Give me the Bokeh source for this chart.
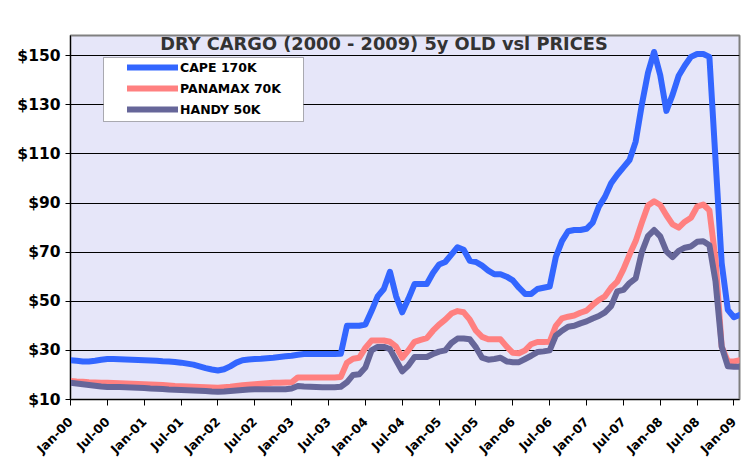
import math
from bokeh.plotting import figure
from bokeh.models import (FixedTicker, NumeralTickFormatter, Legend, LegendItem, Label,
                          BoxAnnotation, Range1d, ColumnDataSource)
from bokeh.embed import file_html
from bokeh.resources import INLINE

# ---- data (monthly, Jan-2000 = month 0) ----
months = list(range(110))
tick_months = list(range(0, 109, 6))
tick_labels = ["Jan-00", "Jul-00", "Jan-01", "Jul-01", "Jan-02", "Jul-02", "Jan-03", "Jul-03",
               "Jan-04", "Jul-04", "Jan-05", "Jul-05", "Jan-06", "Jul-06", "Jan-07", "Jul-07",
               "Jan-08", "Jul-08", "Jan-09"]
y_ticks = [10, 30, 50, 70, 90, 110, 130, 150]

cape = [26.0, 25.8, 25.5, 25.5, 25.8, 26.2, 26.5, 26.5, 26.4, 26.3,
        26.2, 26.1, 26.0, 25.9, 25.8, 25.6, 25.5, 25.3, 25.0, 24.6,
        24.2, 23.5, 22.8, 22.2, 21.8, 22.3, 23.5, 25.0, 26.0, 26.3,
        26.5, 26.6, 26.8, 27.0, 27.3, 27.6, 27.8, 28.2, 28.5, 28.5,
        28.5, 28.5, 28.5, 28.5, 28.6, 40.0, 40.0, 40.0, 40.5, 46.0,
        52.0, 55.0, 62.0, 52.0, 45.5, 51.0, 57.0, 57.0, 57.0, 61.5,
        65.0, 66.0, 69.0, 72.0, 71.0, 66.5, 66.0, 64.5, 62.5, 61.0,
        61.0, 60.0, 58.5, 55.5, 53.0, 53.0, 55.0, 55.5, 56.0, 68.0,
        74.5, 78.5, 79.0, 79.0, 79.5, 82.0, 88.5, 92.5, 98.0, 101.5,
        104.5, 107.5, 115.0, 130.0, 143.0, 151.5, 142.0, 127.5, 134.0, 141.8,
        146.0, 149.5, 150.7, 150.7, 149.5, 107.5, 65.5, 46.5, 43.5, 44.5]

panamax = [17.5, 17.3, 17.2, 17.0, 16.9, 16.8, 16.8, 16.7, 16.6, 16.5,
           16.4, 16.3, 16.2, 16.1, 16.0, 15.9, 15.7, 15.5, 15.4, 15.3,
           15.2, 15.1, 15.0, 14.9, 14.8, 15.0, 15.2, 15.5, 15.8, 16.0,
           16.2, 16.4, 16.6, 16.8, 16.8, 16.9, 17.0, 19.0, 19.0, 19.0,
           19.0, 19.0, 19.0, 19.0, 19.2, 25.0, 26.6, 27.0, 31.0, 34.0,
           34.0, 34.0, 33.5, 31.5, 27.0, 30.0, 33.5, 34.3, 35.0, 38.0,
           40.5, 42.5, 45.0, 46.0, 45.5, 42.5, 38.0, 35.5, 34.5, 34.5,
           34.5, 31.5, 29.0, 28.8, 30.0, 32.5, 33.4, 33.4, 33.5, 40.0,
           43.0, 43.7, 44.2, 45.3, 46.2, 48.5, 50.5, 52.0, 55.5, 58.0,
           63.0, 69.0, 74.5, 82.0, 89.0, 90.7, 89.2, 85.0, 81.3, 80.0,
           82.4, 84.0, 88.5, 89.4, 87.0, 67.0, 31.5, 25.5, 25.5, 26.0]

handy = [16.8, 16.5, 16.2, 15.9, 15.6, 15.3, 15.1, 15.1, 15.1, 15.0,
         14.9, 14.8, 14.7, 14.5, 14.4, 14.3, 14.1, 14.0, 13.9, 13.8,
         13.7, 13.6, 13.5, 13.3, 13.2, 13.3, 13.5, 13.7, 13.9, 14.1,
         14.2, 14.2, 14.2, 14.2, 14.2, 14.2, 14.5, 15.5, 15.3, 15.2,
         15.1, 15.0, 15.0, 15.0, 15.2, 17.0, 20.0, 20.3, 23.0, 30.0,
         31.4, 31.4, 30.5, 26.0, 21.5, 23.8, 27.3, 27.3, 27.3, 28.5,
         29.5, 30.0, 33.0, 34.8, 34.8, 34.5, 31.2, 27.0, 26.2, 26.5,
         27.0, 25.5, 25.2, 25.2, 26.5, 27.8, 29.3, 29.6, 30.0, 36.0,
         38.0, 39.6, 40.0, 41.0, 41.8, 43.0, 44.0, 45.5, 48.0, 54.0,
         54.6, 57.4, 59.3, 70.0, 76.5, 79.0, 76.4, 70.3, 68.0, 70.5,
         71.8, 72.3, 74.2, 74.4, 72.8, 58.0, 31.5, 23.5, 23.3, 23.3]

series_names = ["CAPE 170K", "PANAMAX 70K", "HANDY 50K"]
series_colors = ["#3366FF", "#FF8080", "#666699"]
title_text = "DRY CARGO (2000 - 2009) 5y OLD vsl PRICES"

src = ColumnDataSource(dict(month=months, cape=cape, panamax=panamax, handy=handy))

p = figure(width=742, height=466, x_range=Range1d(0, 108.9), y_range=Range1d(10, 158.2),
           output_backend="svg", toolbar_location=None,
           min_border_left=70, min_border_right=3, min_border_top=35, min_border_bottom=67,
           background_fill_color="#E6E6F9", border_fill_color="white")
p.outline_line_color = "#808080"
p.outline_line_width = 2

p.xgrid.visible = False
yt = FixedTicker(ticks=y_ticks)
p.yaxis.ticker = yt
p.ygrid.ticker = yt
p.ygrid.grid_line_color = "black"
p.ygrid.grid_line_width = 1
p.yaxis.formatter = NumeralTickFormatter(format="$0")
p.xaxis.ticker = FixedTicker(ticks=tick_months)
p.xaxis.major_label_overrides = {m: lab for m, lab in zip(tick_months, tick_labels)}
p.xaxis.major_label_orientation = math.pi / 4

for ax in (p.xaxis, p.yaxis):
    ax.axis_line_color = "black"
    ax.axis_line_width = 1
    ax.major_tick_line_color = "black"
    ax.major_tick_in = 0
    ax.minor_tick_line_color = None
    ax.major_label_text_font = "DejaVu Sans"
    ax.major_label_text_font_style = "bold"
    ax.major_label_text_color = "black"
p.yaxis.major_tick_out = 5
p.yaxis.major_label_text_font_size = "15.5px"
p.yaxis.major_label_standoff = 5
p.xaxis.major_tick_out = 6
p.xaxis.major_label_text_font_size = "12.5px"
p.xaxis.major_label_standoff = 14

# outer chart border (frame-relative screen units, extends past the canvas bottom)
outer = BoxAnnotation(left=-67, right=670, top=391, bottom=-120,
                      left_units="screen", right_units="screen",
                      top_units="screen", bottom_units="screen",
                      fill_alpha=0.0, line_color="black", line_width=1.2, level="underlay")
p.add_layout(outer)

renderers = []
for col, color in zip(["cape", "panamax", "handy"], series_colors):
    r = p.line("month", col, source=src, line_color=color, line_width=6,
               line_join="round", line_cap="round")
    renderers.append(r)

box = BoxAnnotation(left=33, right=233, top=342, bottom=278,
                    left_units="screen", right_units="screen",
                    top_units="screen", bottom_units="screen",
                    fill_color="white", fill_alpha=1.0, line_color="black", line_width=1)
p.add_layout(box)

legend = Legend(items=[LegendItem(label=n, renderers=[r]) for n, r in zip(series_names, renderers)],
                location=(57, 280), padding=0, spacing=1, margin=0,
                glyph_width=51, glyph_height=20, label_height=20, label_standoff=2,
                label_text_font="DejaVu Sans", label_text_font_style="bold",
                label_text_font_size="12.5px", label_text_color="black",
                background_fill_alpha=0.0, border_line_color=None)
p.add_layout(legend)

title = Label(x=313.5, y=356, x_units="screen", y_units="screen", text=title_text,
              text_align="center", text_baseline="middle", text_font="DejaVu Sans",
              text_font_style="bold", text_font_size="17.8px", text_color="#333333")
p.add_layout(title)

open("out.html", "w").write(file_html(p, INLINE))
